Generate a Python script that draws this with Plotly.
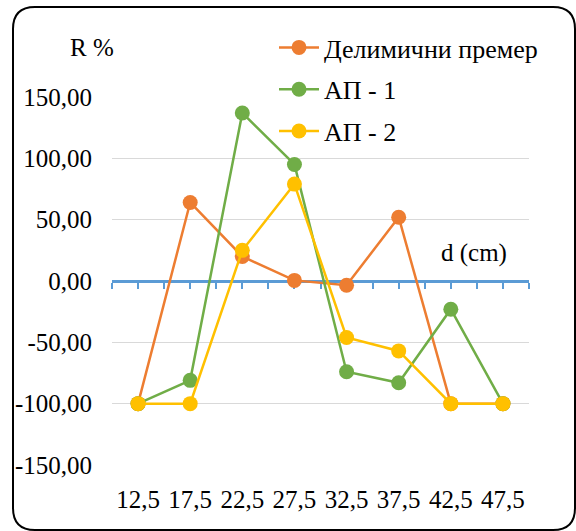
import plotly.graph_objects as go

categories = ["12,5", "17,5", "22,5", "27,5", "32,5", "37,5", "42,5", "47,5"]
partial = [-100, 64, 20, 0.5, -3.5, 52, -100, -100]
ap1 = [-100, -81, 137, 95, -74, -83, -23, -100]
ap2 = [-100, -100, 25, 79, -46, -57, -100, -100]
series_names = ["Делимични премер", "АП - 1", "АП - 2"]
colors = ["#ED7D31", "#70AD47", "#FFC000"]
y_ticks = [150, 100, 50, 0, -50, -100, -150]
y_ticktext = ["150,00", "100,00", "50,00", "0,00", "-50,00", "-100,00", "-150,00"]

W, H = 576, 531
L, R, T, B = 112, 47, 97, 66
FONT = '"Liberation Serif", "Times New Roman", serif'
FS = 25
LFS = 26

def px(X):
    return (X - L) / (W - L - R)

def py(Y):
    return (H - B - Y) / (H - T - B)

xs = list(range(len(categories)))
fig = go.Figure()
for name, vals, c in zip(series_names, [partial, ap1, ap2], colors):
    fig.add_trace(go.Scatter(
        x=xs, y=vals, name=name, mode="lines+markers",
        line=dict(color=c, width=2.5),
        marker=dict(color=c, size=15),
        legendgroup=name,
    ))
# carrier trace so the category-label axis is drawn
fig.add_trace(go.Scatter(x=xs, y=[None] * len(xs), xaxis="x2", showlegend=False,
                         hoverinfo="skip", mode="markers"))

# rounded border
x0, y0, x1, y1, r = 13, 7, 575, 530, 22
path = (f"M {px(x0+r)},{py(y0)} L {px(x1-r)},{py(y0)} Q {px(x1)},{py(y0)} {px(x1)},{py(y0+r)} "
        f"L {px(x1)},{py(y1-r)} Q {px(x1)},{py(y1)} {px(x1-r)},{py(y1)} "
        f"L {px(x0+r)},{py(y1)} Q {px(x0)},{py(y1)} {px(x0)},{py(y1-r)} "
        f"L {px(x0)},{py(y0+r)} Q {px(x0)},{py(y0)} {px(x0+r)},{py(y0)} Z")

fig.update_layout(
    width=W, height=H,
    margin=dict(l=L, r=R, t=T, b=B),
    paper_bgcolor="white", plot_bgcolor="white",
    font=dict(family=FONT, size=FS, color="black"),
    showlegend=True,
    legend=dict(x=px(274), y=py(24), xanchor="left", yanchor="top",
                bgcolor="rgba(0,0,0,0)", tracegroupgap=5, itemwidth=40,
                font=dict(family=FONT, size=LFS)),
    xaxis=dict(range=[-0.5, 7.5], anchor="free", position=0.5,
               showline=True, linecolor="#5B9BD5", linewidth=2.5,
               ticks="outside", ticklen=6, tickwidth=2, tickcolor="#5B9BD5",
               tickmode="linear", tick0=-0.5, dtick=0.5,
               showticklabels=False, showgrid=False, zeroline=False,
               layer="below traces"),
    xaxis2=dict(range=[-0.5, 7.5], overlaying="x", anchor="y", side="bottom",
                tickmode="array", tickvals=xs, ticktext=categories,
                showline=False, showgrid=False, zeroline=False, ticks="",
                ticklabelstandoff=17, tickfont=dict(family=FONT, size=FS)),
    yaxis=dict(range=[-150, 150], tickmode="array", tickvals=y_ticks, ticktext=y_ticktext,
               showgrid=True, gridcolor="#D9D9D9", gridwidth=1, zeroline=False,
               showline=False, ticks="", ticklabelstandoff=19,
               tickfont=dict(family=FONT, size=FS)),
    shapes=[dict(type="path", xref="paper", yref="paper", path=path,
                 line=dict(color="black", width=2), layer="above")],
    annotations=[
        dict(text="R %", x=px(68), y=py(32), xref="paper", yref="paper",
             showarrow=False, font=dict(family=FONT, size=FS)),
        dict(text="d (cm)", x=px(509), y=py(253), xref="paper", yref="paper",
             showarrow=False, font=dict(family=FONT, size=FS)),
    ],
)

fig.write_html("out.html")
